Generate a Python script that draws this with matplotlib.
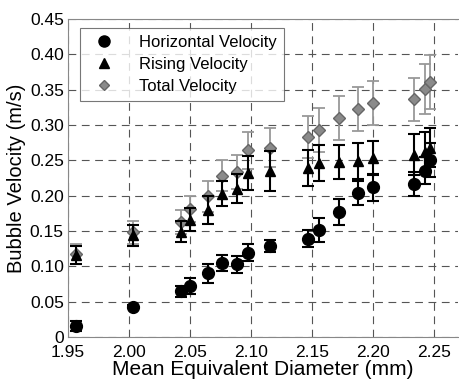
import numpy as np
import matplotlib.pyplot as plt
from matplotlib.lines import Line2D

plt.rcParams['font.family'] = ['Liberation Sans', 'DejaVu Sans']

# mean equivalent diameter (mm)
diam = [1.957, 2.003, 2.043, 2.050, 2.065, 2.076, 2.089, 2.098, 2.116,
        2.147, 2.156, 2.172, 2.188, 2.200, 2.234, 2.243, 2.247]

horiz = [0.016, 0.043, 0.065, 0.072, 0.090, 0.105, 0.103, 0.119, 0.129,
         0.139, 0.152, 0.177, 0.204, 0.212, 0.217, 0.235, 0.251]
horiz_err = [0.007, 0.002, 0.008, 0.011, 0.014, 0.011, 0.012, 0.012, 0.008,
             0.012, 0.017, 0.018, 0.017, 0.019, 0.017, 0.019, 0.024]

rising = [0.116, 0.144, 0.149, 0.166, 0.180, 0.203, 0.210, 0.232, 0.235,
          0.239, 0.246, 0.248, 0.249, 0.253, 0.258, 0.262, 0.268]
rising_err = [0.013, 0.015, 0.015, 0.016, 0.020, 0.018, 0.021, 0.024, 0.028,
              0.025, 0.025, 0.024, 0.025, 0.024, 0.029, 0.028, 0.028]

total = [0.118, 0.148, 0.163, 0.181, 0.199, 0.228, 0.234, 0.264, 0.268,
         0.283, 0.293, 0.310, 0.323, 0.331, 0.336, 0.351, 0.361]
total_err = [0.014, 0.016, 0.017, 0.018, 0.022, 0.022, 0.024, 0.026, 0.028,
             0.030, 0.031, 0.031, 0.031, 0.031, 0.031, 0.035, 0.038]

fig = plt.figure(figsize=(4.59, 3.84), dpi=100)
ax = fig.add_axes([0.148, 0.122, 0.85, 0.829])

ax.errorbar(diam, total, yerr=total_err, fmt='D', color='#8a8a8a', ms=6.5,
            mec='#666666', ecolor='#999999', elinewidth=1.3, capsize=4,
            capthick=1.3, zorder=2)
ax.errorbar(diam, rising, yerr=rising_err, fmt='^', color='black', ms=7,
            ecolor='black', elinewidth=1.5, capsize=4, capthick=1.5,
            zorder=3)
ax.errorbar(diam, horiz, yerr=horiz_err, fmt='o', color='black', ms=8.5,
            ecolor='black', elinewidth=1.5, capsize=4, capthick=1.5,
            zorder=4)

ax.set_xlim(1.95, 2.27)
ax.set_ylim(0, 0.45)
ax.set_xticks(np.arange(1.95, 2.26, 0.05))
ax.set_xticklabels(['1.95', '2.00', '2.05', '2.10', '2.15', '2.20', '2.25'])
ax.set_yticks(np.arange(0, 0.46, 0.05))
ax.set_yticklabels(['0', '0.05', '0.10', '0.15', '0.20', '0.25', '0.30',
                    '0.35', '0.40', '0.45'])
ax.tick_params(axis='both', labelsize=12.5, length=0)
ax.tick_params(axis='x', pad=6)
ax.tick_params(axis='y', pad=3)
ax.grid(True, linestyle=(0, (7, 5)), color='#555555', linewidth=0.8)
ax.set_axisbelow(True)
for s in ax.spines.values():
    s.set_color('#888888')
    s.set_linewidth(0.8)
ax.spines['right'].set_visible(False)

ax.set_xlabel('Mean Equivalent Diameter (mm)', fontsize=15, labelpad=0)
ax.set_ylabel('Bubble Velocity (m/s)', fontsize=14.5, labelpad=3)

handles = [Line2D([], [], ls='none', marker='o', color='black', ms=8),
           Line2D([], [], ls='none', marker='^', color='black', ms=7),
           Line2D([], [], ls='none', marker='D', color='#8a8a8a',
                  mec='#666666', ms=5.5)]
labels = ['Horizontal Velocity', 'Rising Velocity', 'Total Velocity']
leg = ax.legend(handles, labels, loc='upper left', bbox_to_anchor=(0.03, 0.972),
                fontsize=12, frameon=True, fancybox=False, edgecolor='#555555',
                borderpad=0.45, labelspacing=0.4, handletextpad=1.1,
                handlelength=2.0, borderaxespad=0)
leg.get_frame().set_linewidth(0.8)

fig.savefig('out.png', dpi=100)
